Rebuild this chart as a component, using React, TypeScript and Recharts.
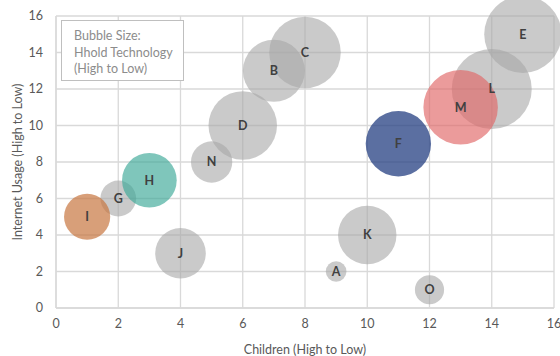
import React from 'react';
import { ScatterChart, Scatter, XAxis, YAxis, ZAxis, CartesianGrid, Cell, LabelList } from 'recharts';

const names = ['A', 'B', 'C', 'D', 'E', 'F', 'G', 'H', 'I', 'J', 'K', 'L', 'M', 'N', 'O'];
const children = [9, 7, 8, 6, 15, 11, 2, 3, 1, 4, 10, 14, 13, 5, 12];
const internetUsage = [2, 13, 14, 10, 15, 9, 6, 7, 5, 3, 4, 12, 11, 8, 1];
const hholdTech = [1, 9, 12, 11, 14, 10, 3, 7, 5, 6, 8, 15, 13, 4, 2];
const xTicks = [0, 2, 4, 6, 8, 10, 12, 14, 16];
const yTicks = [0, 2, 4, 6, 8, 10, 12, 14, 16];

const highlight: Record<string, { fill: string; opacity: number }> = {
  F: { fill: '#284283', opacity: 0.76 },
  H: { fill: '#3aa896', opacity: 0.65 },
  I: { fill: '#c87640', opacity: 0.7 },
  M: { fill: '#e06666', opacity: 0.65 },
};
const defaultStyle = { fill: '#a6a6a6', opacity: 0.6 };

const data = names.map((name, i) => ({
  name,
  x: children[i],
  y: internetUsage[i],
  z: hholdTech[i],
}));

const FONT = 'Lato, "Open Sans", sans-serif';

export default function App() {
  return (
    <div style={{ position: 'absolute', left: 0, top: 0, width: 560, height: 356, background: '#fff', fontFamily: FONT }}>
      <ScatterChart width={560} height={356} margin={{ top: 16, right: 6, bottom: 2, left: 0 }}>
        <CartesianGrid stroke="#d9d9d9" strokeWidth={1.3} />
        <XAxis
          type="number"
          dataKey="x"
          domain={[0, 16]}
          ticks={xTicks}
          interval={0}
          height={46}
          tickLine={false}
          tickMargin={5}
          axisLine={{ stroke: '#d9d9d9', strokeWidth: 1.3 }}
          tick={{ fill: '#595959', fontSize: 12.5, fontFamily: FONT }}
          label={{ value: 'Children (High to Low)', position: 'insideBottom', offset: 0, fill: '#595959', fontSize: 12.5, fontFamily: FONT }}
        />
        <YAxis
          type="number"
          dataKey="y"
          domain={[0, 16]}
          ticks={yTicks}
          interval={0}
          width={56}
          tickLine={false}
          tickMargin={7}
          axisLine={{ stroke: '#d9d9d9', strokeWidth: 1.3 }}
          tick={{ fill: '#595959', fontSize: 12.5, fontFamily: FONT }}
          label={{ value: 'Internet Usage (High to Low)', angle: -90, position: 'insideLeft', offset: 18, fill: '#595959', fontSize: 12.5, fontFamily: FONT, style: { textAnchor: 'middle' } }}
        />
        <ZAxis type="number" dataKey="z" domain={[0, 15]} range={[0, 5027]} />
        <Scatter data={data} isAnimationActive={false} shape="circle">
          {data.map((d) => {
            const s = highlight[d.name] || defaultStyle;
            return <Cell key={d.name} fill={s.fill} fillOpacity={s.opacity} />;
          })}
          <LabelList dataKey="name" position="center" fill="#404040" fontSize={12.5} fontWeight="bold" fontFamily={FONT} />
        </Scatter>
      </ScatterChart>
      <div
        style={{
          position: 'absolute',
          left: 61,
          top: 20,
          width: 123,
          height: 61,
          border: '1.3px solid #bfbfbf',
          background: '#fff',
          color: '#8c8c8c',
          fontSize: 12.5,
          lineHeight: '16.5px',
          padding: '7px 0 0 12px',
          boxSizing: 'border-box',
          fontFamily: FONT,
        }}
      >
        Bubble Size:<br />Hhold Technology<br />(High to Low)
      </div>
    </div>
  );
}
